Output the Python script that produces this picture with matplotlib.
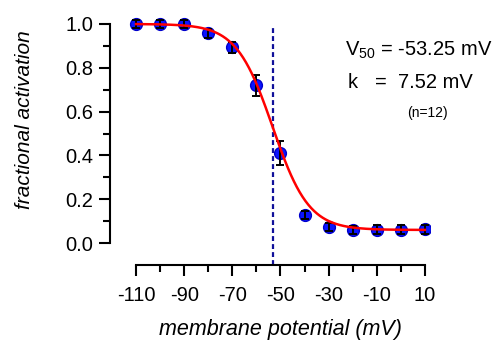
import numpy as np
import matplotlib
matplotlib.use("Agg")
import matplotlib.pyplot as plt
from matplotlib.ticker import FixedLocator

plt.rcParams['font.family'] = ['Liberation Sans', 'DejaVu Sans']
plt.rcParams['mathtext.fontset'] = 'custom'
plt.rcParams['mathtext.rm'] = 'Liberation Sans'
plt.rcParams['mathtext.it'] = 'Liberation Sans:italic'

voltage = [-110, -100, -90, -80, -70, -60, -50, -40, -30, -20, -10, 0, 10]
activation = [1.0, 1.0, 1.0, 0.958, 0.894, 0.72, 0.41, 0.128, 0.073, 0.06, 0.062, 0.062, 0.063]
sem = [0.02, 0.02, 0.02, 0.02, 0.025, 0.048, 0.054, 0.02, 0.02, 0.02, 0.02, 0.02, 0.02]

V50 = -53.25
k = 7.52
A_top = 1.0
A_bottom = 0.06
x_ticks = [-110, -90, -70, -50, -30, -10, 10]
x_minor = [-100, -80, -60, -40, -20, 0]
y_ticks = [0.0, 0.2, 0.4, 0.6, 0.8, 1.0]
y_minor = [0.1, 0.3, 0.5, 0.7, 0.9]

W, H = 501, 340
fig = plt.figure(figsize=(W / 100, H / 100), dpi=100)
ax = fig.add_axes([110 / W, 75 / H, 320 / W, 250 / H])

vfit = np.linspace(-110, 10, 400)
fit = A_bottom + (A_top - A_bottom) / (1 + np.exp((vfit - V50) / k))
ax.plot(vfit, fit, color='red', lw=1.8, zorder=5)

ax.plot(voltage, activation, 'o', color='#0a14ff', ms=8.5, mec='#0000cc', zorder=3)
ax.errorbar(voltage, activation, yerr=sem, fmt='none',
            ecolor='black', elinewidth=1.4, capsize=3, capthick=1.4, zorder=4)

ax.plot([V50, V50], [-0.1, 0.995], color='#10109a', lw=1.6, ls=(0, (2.2, 1.4)), zorder=1)

ax.set_xlim(-120.8, 12.1)
ax.set_ylim(-0.1, 1.041)
ax.spines['top'].set_visible(False)
ax.spines['right'].set_visible(False)
ax.spines['left'].set_bounds(0, 1.0)
ax.spines['bottom'].set_bounds(-110, 10)
ax.spines['left'].set_linewidth(1.5)
ax.spines['bottom'].set_linewidth(1.5)

ax.set_xticks(x_ticks)
ax.set_xticklabels([str(t) for t in x_ticks])
ax.xaxis.set_minor_locator(FixedLocator(x_minor))
ax.set_yticks(y_ticks)
ax.set_yticklabels([f"{t:.1f}" for t in y_ticks])
ax.yaxis.set_minor_locator(FixedLocator(y_minor))
ax.tick_params(which='major', direction='out', length=8, width=1.5, labelsize=14.5)
ax.tick_params(axis='x', which='major', pad=7)
ax.tick_params(axis='y', which='major', pad=4)
ax.tick_params(which='minor', direction='out', length=5, width=1.5)

ax.set_xlabel('membrane potential (mV)', fontsize=15.5, style='italic', va='center')
ax.xaxis.set_label_coords((280 - 110) / 320, (265 - 329) / 250)
ax.set_ylabel('fractional activation', fontsize=15, style='italic', va='center')
ax.yaxis.set_label_coords((25 - 110) / 320, (265 - 120) / 250)

fig.text(345 / W, 1 - 50 / H, r'V$_{\mathrm{50}}$ = -53.25 mV', fontsize=14.5, ha='left', va='center')
fig.text(348 / W, 1 - 83 / H, 'k   =  7.52 mV', fontsize=14.5, ha='left', va='center')
fig.text(427 / W, 1 - 113 / H, '(n=12)', fontsize=10, ha='center', va='center')

fig.savefig('out.png', dpi=100)
